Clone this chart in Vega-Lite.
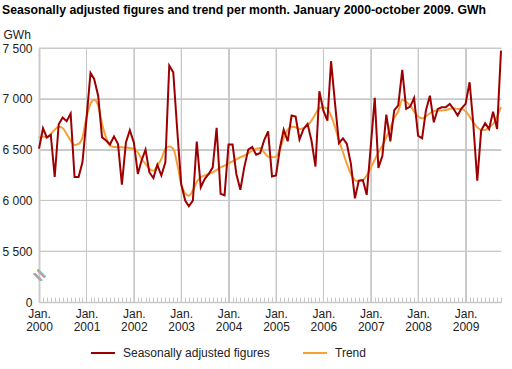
{
  "$schema": "https://vega.github.io/schema/vega-lite/v6.json",
  "autosize": {"type": "none"},
  "width": 462,
  "height": 254,
  "padding": {"left": 39, "top": 48, "right": 11, "bottom": 67},
  "title": {
    "text": "Seasonally adjusted figures and trend per month. January 2000-october 2009. GWh",
    "anchor": "start",
    "offset": 12,
    "fontSize": 12.25,
    "fontWeight": "bold",
    "color": "#000"
  },
  "config": {
    "font": "Liberation Sans",
    "view": {"stroke": null}
  },
  "datasets": {
    "ygrid": [{"v": 5500}, {"v": 6000}, {"v": 6500}, {"v": 7000}, {"v": 7500}],
    "xgrid": [{"g": "2001-01"}, {"g": "2002-01"}, {"g": "2003-01"}, {"g": "2004-01"}, {"g": "2005-01"}, {"g": "2006-01"}, {"g": "2007-01"}, {"g": "2008-01"}, {"g": "2009-01"}]
  },
  "data": {
    "format": {"parse": {"m": "utc:'%Y-%m'"}},
    "values": [
      {"m":"2000-01","sa":6510,"trend":6615},{"m":"2000-02","sa":6710,"trend":6628},{"m":"2000-03","sa":6620,"trend":6620},{"m":"2000-04","sa":6645,"trend":6655},{"m":"2000-05","sa":6230,"trend":6695},{"m":"2000-06","sa":6750,"trend":6726},{"m":"2000-07","sa":6815,"trend":6713},{"m":"2000-08","sa":6780,"trend":6655},{"m":"2000-09","sa":6855,"trend":6590},{"m":"2000-10","sa":6230,"trend":6546},{"m":"2000-11","sa":6230,"trend":6556},{"m":"2000-12","sa":6375,"trend":6620},
      {"m":"2001-01","sa":6800,"trend":6818},{"m":"2001-02","sa":7254,"trend":6950},{"m":"2001-03","sa":7195,"trend":6990},{"m":"2001-04","sa":7030,"trend":6933},{"m":"2001-05","sa":6620,"trend":6753},{"m":"2001-06","sa":6590,"trend":6620},{"m":"2001-07","sa":6550,"trend":6540},{"m":"2001-08","sa":6630,"trend":6525},{"m":"2001-09","sa":6555,"trend":6525},{"m":"2001-10","sa":6155,"trend":6522},{"m":"2001-11","sa":6570,"trend":6520},{"m":"2001-12","sa":6690,"trend":6515},
      {"m":"2002-01","sa":6570,"trend":6507},{"m":"2002-02","sa":6260,"trend":6474},{"m":"2002-03","sa":6390,"trend":6408},{"m":"2002-04","sa":6500,"trend":6360},{"m":"2002-05","sa":6275,"trend":6310},{"m":"2002-06","sa":6220,"trend":6293},{"m":"2002-07","sa":6350,"trend":6343},{"m":"2002-08","sa":6245,"trend":6408},{"m":"2002-09","sa":6375,"trend":6507},{"m":"2002-10","sa":7327,"trend":6530},{"m":"2002-11","sa":7260,"trend":6507},{"m":"2002-12","sa":6700,"trend":6360},
      {"m":"2003-01","sa":6160,"trend":6160},{"m":"2003-02","sa":5998,"trend":6070},{"m":"2003-03","sa":5942,"trend":6047},{"m":"2003-04","sa":5998,"trend":6097},{"m":"2003-05","sa":6580,"trend":6180},{"m":"2003-06","sa":6130,"trend":6228},{"m":"2003-07","sa":6210,"trend":6245},{"m":"2003-08","sa":6260,"trend":6260},{"m":"2003-09","sa":6325,"trend":6277},{"m":"2003-10","sa":6715,"trend":6300},{"m":"2003-11","sa":6065,"trend":6326},{"m":"2003-12","sa":6050,"trend":6343},
      {"m":"2004-01","sa":6550,"trend":6365},{"m":"2004-02","sa":6550,"trend":6385},{"m":"2004-03","sa":6260,"trend":6405},{"m":"2004-04","sa":6105,"trend":6425},{"m":"2004-05","sa":6325,"trend":6440},{"m":"2004-06","sa":6500,"trend":6464},{"m":"2004-07","sa":6525,"trend":6490},{"m":"2004-08","sa":6450,"trend":6507},{"m":"2004-09","sa":6467,"trend":6516},{"m":"2004-10","sa":6590,"trend":6474},{"m":"2004-11","sa":6680,"trend":6431},{"m":"2004-12","sa":6235,"trend":6425},
      {"m":"2005-01","sa":6245,"trend":6431},{"m":"2005-02","sa":6523,"trend":6507},{"m":"2005-03","sa":6695,"trend":6615},{"m":"2005-04","sa":6582,"trend":6694},{"m":"2005-05","sa":6835,"trend":6726},{"m":"2005-06","sa":6825,"trend":6720},{"m":"2005-07","sa":6600,"trend":6703},{"m":"2005-08","sa":6703,"trend":6710},{"m":"2005-09","sa":6753,"trend":6736},{"m":"2005-10","sa":6590,"trend":6785},{"m":"2005-11","sa":6333,"trend":6851},{"m":"2005-12","sa":7074,"trend":6907},
      {"m":"2006-01","sa":6884,"trend":6917},{"m":"2006-02","sa":6785,"trend":6900},{"m":"2006-03","sa":7370,"trend":6835},{"m":"2006-04","sa":6950,"trend":6720},{"m":"2006-05","sa":6565,"trend":6590},{"m":"2006-06","sa":6610,"trend":6474},{"m":"2006-07","sa":6555,"trend":6360},{"m":"2006-08","sa":6360,"trend":6260},{"m":"2006-09","sa":6020,"trend":6200},{"m":"2006-10","sa":6195,"trend":6188},{"m":"2006-11","sa":6200,"trend":6200},{"m":"2006-12","sa":6055,"trend":6244},
      {"m":"2007-01","sa":6530,"trend":6320},{"m":"2007-02","sa":7010,"trend":6400},{"m":"2007-03","sa":6320,"trend":6474},{"m":"2007-04","sa":6440,"trend":6540},{"m":"2007-05","sa":6845,"trend":6620},{"m":"2007-06","sa":6580,"trend":6713},{"m":"2007-07","sa":6885,"trend":6812},{"m":"2007-08","sa":6935,"trend":6877},{"m":"2007-09","sa":7284,"trend":6990},{"m":"2007-10","sa":6900,"trend":6973},{"m":"2007-11","sa":6923,"trend":6933},{"m":"2007-12","sa":7008,"trend":6877},
      {"m":"2008-01","sa":6638,"trend":6825},{"m":"2008-02","sa":6612,"trend":6808},{"m":"2008-03","sa":6884,"trend":6825},{"m":"2008-04","sa":7031,"trend":6858},{"m":"2008-05","sa":6769,"trend":6877},{"m":"2008-06","sa":6900,"trend":6884},{"m":"2008-07","sa":6917,"trend":6884},{"m":"2008-08","sa":6917,"trend":6890},{"m":"2008-09","sa":6950,"trend":6900},{"m":"2008-10","sa":6900,"trend":6907},{"m":"2008-11","sa":6835,"trend":6900},{"m":"2008-12","sa":6907,"trend":6900},
      {"m":"2009-01","sa":6950,"trend":6877},{"m":"2009-02","sa":7163,"trend":6825},{"m":"2009-03","sa":6760,"trend":6769},{"m":"2009-04","sa":6195,"trend":6720},{"m":"2009-05","sa":6687,"trend":6694},{"m":"2009-06","sa":6760,"trend":6694},{"m":"2009-07","sa":6703,"trend":6720},{"m":"2009-08","sa":6874,"trend":6753},{"m":"2009-09","sa":6703,"trend":6825},{"m":"2009-10","sa":7474,"trend":6917}
    ]
  },
  "layer": [
    {
      "data": {"name": "ygrid"},
      "mark": {"type": "rule", "color": "#c8c8c8", "strokeWidth": 1},
      "encoding": {"y": {"field": "v", "type": "quantitative"}}
    },
    {
      "data": {"name": "xgrid", "format": {"parse": {"g": "utc:'%Y-%m'"}}},
      "mark": {"type": "rule", "color": "#c8c8c8", "strokeWidth": 1},
      "encoding": {"x": {"field": "g", "type": "temporal"}}
    },
    {
      "mark": {"type": "line", "strokeWidth": 2, "interpolate": "monotone"},
      "encoding": {
        "x": {
          "field": "m",
          "type": "temporal",
          "scale": {"type": "utc", "nice": false},
          "axis": {
            "title": null,
            "grid": true,
            "gridColor": "#c8c8c8",
            "gridOpacity": {"condition": {"test": "utcmonth(datum.value) == 0", "value": 1}, "value": 0},
            "tickCount": {"interval": "month", "step": 1},
            "labelExpr": "utcmonth(datum.value) == 0 ? ['Jan.', utcFormat(datum.value, '%Y')] : ''",
            "labelOverlap": false,
            "labelFlush": false,
            "labelFontSize": 12,
            "labelColor": "#222",
            "labelPadding": 11,
            "labelLineHeight": 13,
            "tickSize": -5,
            "tickColor": "#c8c8c8",
            "domainColor": "#c8c8c8",
            "domainWidth": 1.5
          }
        },
        "y": {
          "field": "trend",
          "type": "quantitative",
          "scale": {"domain": [5000, 7500], "nice": false, "zero": false},
          "axis": {
            "values": [5000, 5500, 6000, 6500, 7000, 7500],
            "labelExpr": "datum.value == 5000 ? '0' : replace(format(datum.value, ','), ',', ' ')",
            "title": "GWh",
            "titleAngle": 0,
            "titleAlign": "left",
            "titleBaseline": "middle",
            "titleX": -36,
            "titleY": -14,
            "titleFontSize": 12,
            "titleFontWeight": "normal",
            "titleColor": "#222",
            "labelFontSize": 12,
            "labelColor": "#222",
            "labelPadding": 7,
            "ticks": false,
            "grid": true,
            "gridColor": "#c8c8c8",
            "domainColor": "#cccccc",
            "domainWidth": 2
          }
        },
        "color": {
          "datum": "Trend",
          "type": "nominal",
          "scale": {"domain": ["Seasonally adjusted figures", "Trend"], "range": ["#9c0000", "#f7a035"]},
          "legend": {
            "title": null,
            "orient": "none",
            "legendX": 51,
            "legendY": 292,
            "direction": "horizontal",
            "symbolType": "stroke",
            "symbolSize": 576,
            "symbolStrokeWidth": 2,
            "labelFontSize": 12,
            "labelColor": "#222",
            "labelOffset": 7,
            "columnPadding": 29
          }
        }
      }
    },
    {
      "mark": {"type": "line", "strokeWidth": 2},
      "encoding": {
        "x": {"field": "m", "type": "temporal"},
        "y": {"field": "sa", "type": "quantitative"},
        "color": {"datum": "Seasonally adjusted figures", "type": "nominal"}
      }
    },
    {
      "mark": {"type": "text", "text": "=", "fontSize": 20, "angle": 45, "color": "#aaaaaa"},
      "encoding": {
        "x": {"datum": {"year": 2000, "month": 1, "date": 1, "utc": true}, "type": "temporal"},
        "y": {"datum": 5260, "type": "quantitative"}
      }
    }
  ]
}
